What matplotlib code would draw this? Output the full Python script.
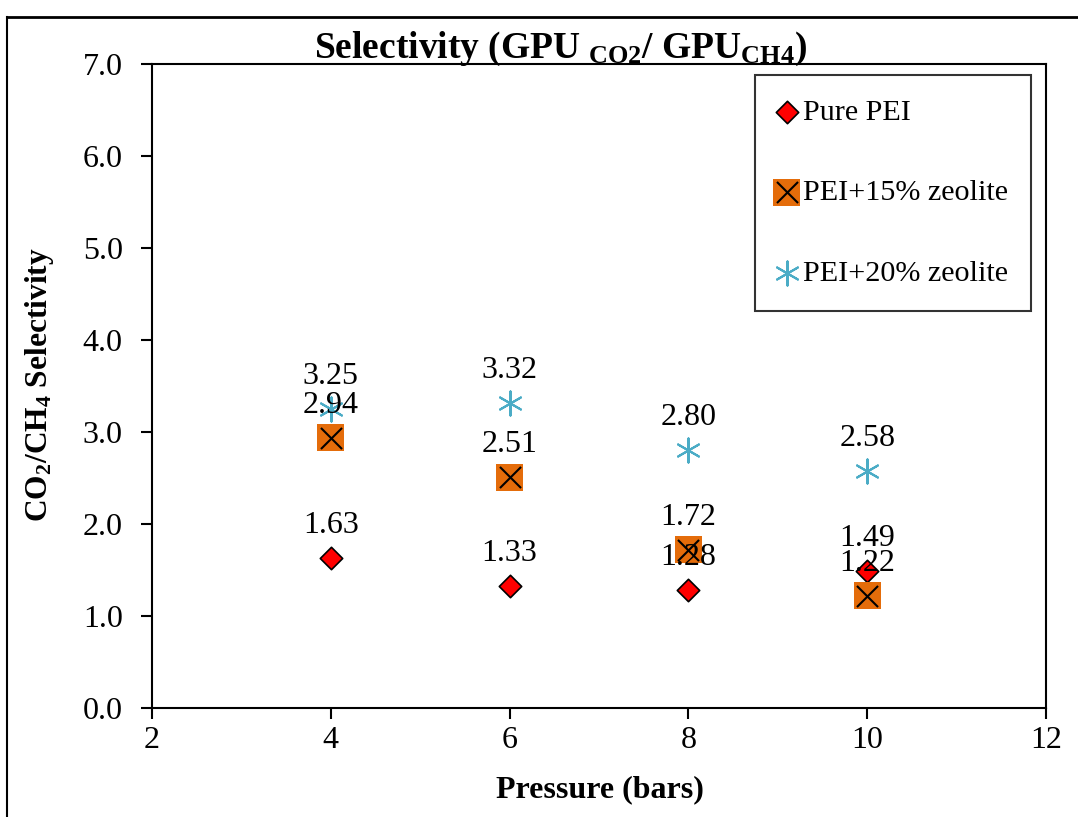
import matplotlib
matplotlib.use("Agg")
import matplotlib.pyplot as plt
from matplotlib.lines import Line2D

plt.rcParams['font.family'] = ['Liberation Serif', 'DejaVu Serif']
plt.rcParams['mathtext.fontset'] = 'custom'
plt.rcParams['mathtext.rm'] = 'Liberation Serif'
plt.rcParams['mathtext.bf'] = 'Liberation Serif:bold'
plt.rcParams['mathtext.it'] = 'Liberation Serif:italic'

pressure = [4, 6, 8, 10]
pure_pei = [1.63, 1.33, 1.28, 1.49]
pei_15 = [2.94, 2.51, 1.72, 1.22]
pei_20 = [3.25, 3.32, 2.80, 2.58]
series_labels = ["Pure PEI", "PEI+15% zeolite", "PEI+20% zeolite"]
xticks = [2, 4, 6, 8, 10, 12]
yticks = [0, 1, 2, 3, 4, 5, 6, 7]

W, H = 1078, 817
fig = plt.figure(figsize=(W / 100, H / 100), dpi=100)
ax = fig.add_axes([152 / W, 1 - 708 / H, (1046 - 152) / W, (708 - 64) / H])

red = '#FF0000'
orange = '#E46C0A'
blue = '#4BACC6'

h1 = ax.scatter(pressure, pure_pei, marker='D', s=130, facecolor=red,
                edgecolor='black', linewidth=1.2, zorder=3)
h2a = ax.scatter(pressure, pei_15, marker='s', s=380, facecolor=orange,
                 edgecolor='none', zorder=3)
h2b = ax.scatter(pressure, pei_15, marker='x', s=230, color='black',
                 linewidth=1.5, zorder=4)
h3 = ax.scatter(pressure, pei_20, marker=(6, 2, 0), s=300, color=blue,
                linewidth=1.5, zorder=3)

for series in (pure_pei, pei_15, pei_20):
    for x, y in zip(pressure, series):
        ax.annotate(f"{y:.2f}", (x, y), xytext=(0, 18), textcoords='offset points',
                    ha='center', va='baseline', fontsize=23, zorder=5)

ax.set_xlim(2, 12)
ax.set_ylim(0, 7)
ax.set_xticks(xticks)
ax.set_yticks(yticks)
ax.set_xticklabels([str(v) for v in xticks])
ax.set_yticklabels([f"{v:.1f}" for v in yticks])
ax.tick_params(axis='both', direction='out', length=8, width=1.5, labelsize=23,
               color='black')
ax.tick_params(axis='y', pad=13)
ax.tick_params(axis='x', pad=5)
for sp in ax.spines.values():
    sp.set_linewidth(1.5)
    sp.set_color('black')

fig.text(40 / W, 1 - 385 / H, r'$\mathbf{CO_2/CH_4\ Selectivity}$', rotation=90,
         ha='center', va='center', fontsize=22.7)
fig.text(600 / W, 1 - 790 / H, 'Pressure (bars)', ha='center', va='center',
         fontsize=23, fontweight='bold')
fig.text(561 / W, 1 - 58 / H,
         r'$\mathbf{Selectivity\ (GPU\ {}_{CO2}/\ GPU_{CH4})}$',
         ha='center', va='baseline', fontsize=27)

leg = fig.legend([h1, (h2a, h2b), h3], series_labels, loc='upper left',
                 bbox_to_anchor=(755 / W, 1 - 75 / H), fontsize=21.7,
                 frameon=True, fancybox=False, edgecolor='black',
                 labelspacing=1.78, handlelength=0.55, handletextpad=0.25,
                 borderpad=0.78, borderaxespad=0)
leg.get_frame().set_linewidth(1.5)

fig.add_artist(Line2D([7 / W, 1], [1 - 17 / H, 1 - 17 / H], transform=fig.transFigure,
                      color='black', linewidth=2))
fig.add_artist(Line2D([7 / W, 7 / W], [1 - 17 / H, 0], transform=fig.transFigure,
                      color='black', linewidth=1.5))

fig.savefig('out.png', dpi=100, facecolor='white')
